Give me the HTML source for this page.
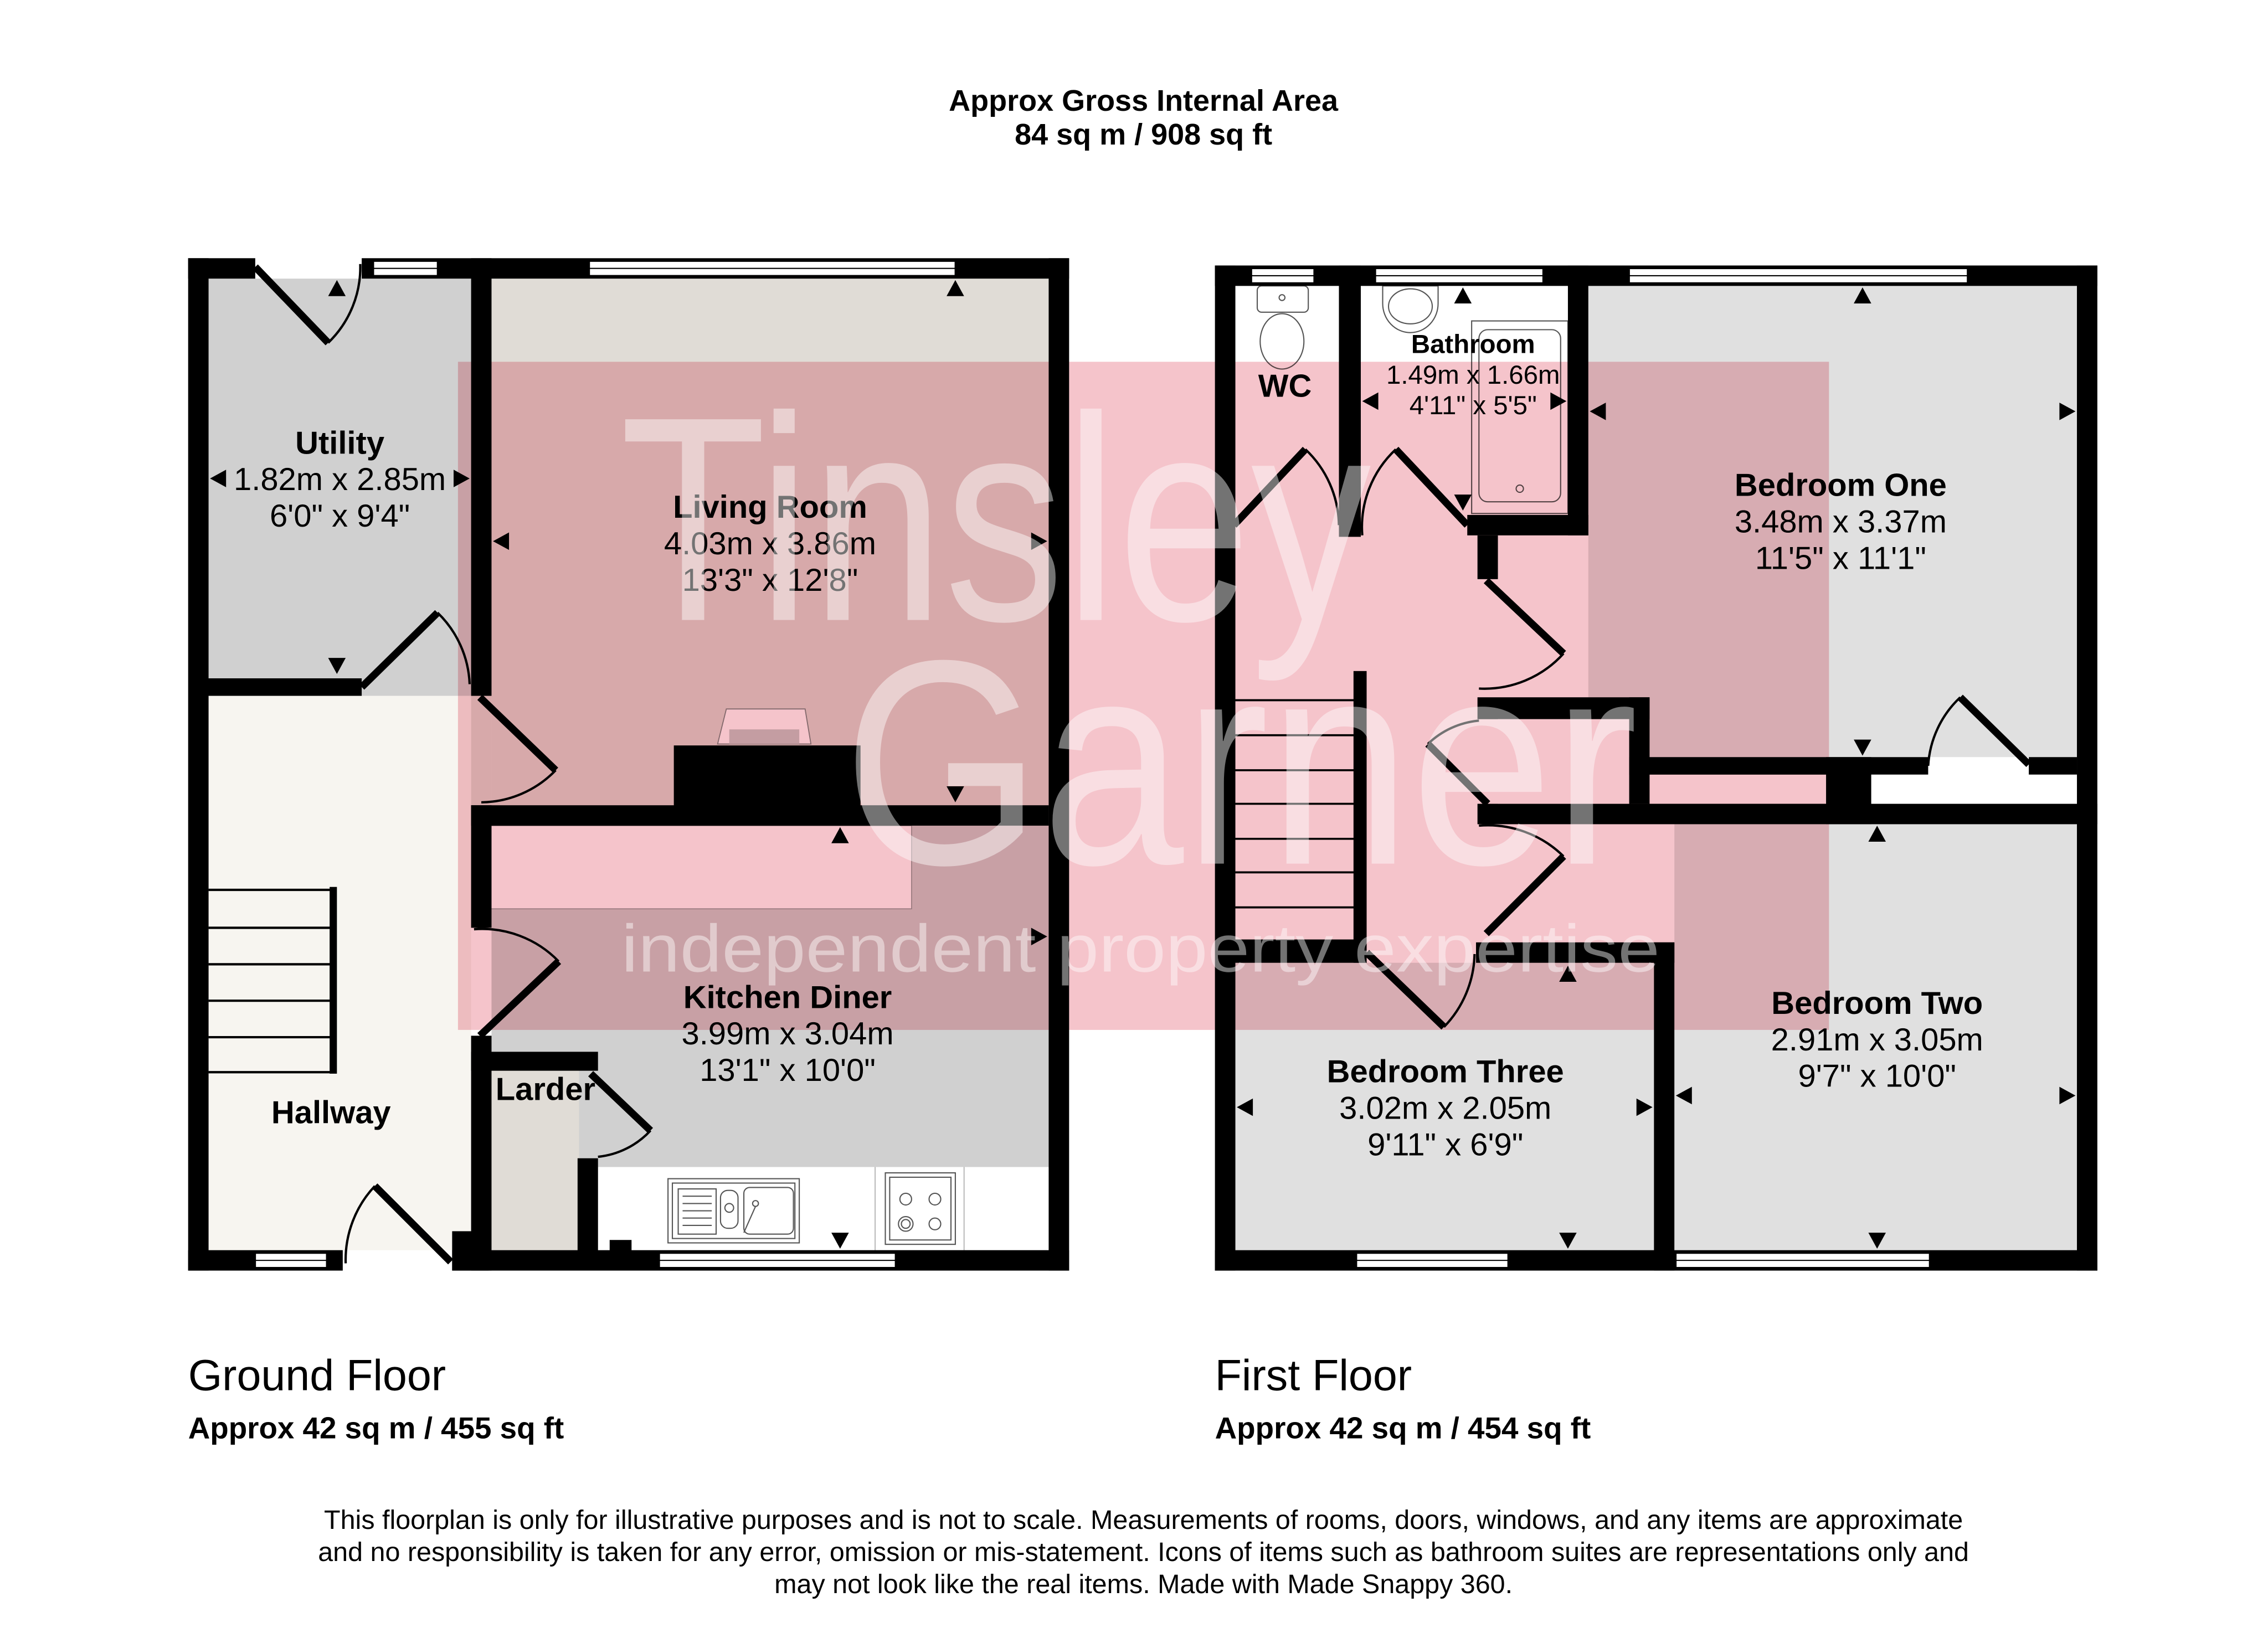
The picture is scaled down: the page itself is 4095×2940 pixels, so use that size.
<!DOCTYPE html>
<html><head><meta charset="utf-8"><style>
html,body{margin:0;padding:0;background:#fff;}
svg{display:block;}
text{font-family:"Liberation Sans",Arial,sans-serif;}
</style></head><body>
<svg width="4095" height="2940" viewBox="0 0 1555 1116" preserveAspectRatio="none" xmlns="http://www.w3.org/2000/svg">
<rect width="1555" height="1116" fill="#fff"/>
<g text-anchor="middle" font-weight="bold" font-size="20.5">
<text x="784" y="76">Approx Gross Internal Area</text>
<text x="784" y="99">84 sq m / 908 sq ft</text>
</g>

<!-- ===== GROUND FLOOR ===== -->
<rect x="143" y="191" width="180" height="274" fill="#d0d0d0"/>
<rect x="337" y="191" width="382" height="361" fill="#e0dcd6"/>
<rect x="143" y="477" width="180" height="380" fill="#f7f5f0"/>
<rect x="248" y="465" width="75" height="12" fill="#d0d0d0"/>
<rect x="323" y="477" width="14" height="75" fill="#e0dcd6"/>
<rect x="337" y="566" width="382" height="291" fill="#d0d0d0"/>
<rect x="336" y="566" width="289" height="57" fill="#fff" stroke="#999" stroke-width="0.6"/>
<rect x="410" y="800" width="309" height="57" fill="#fff"/>
<line x1="600" y1="800" x2="600" y2="857" stroke="#bbb" stroke-width="0.8"/>
<line x1="661" y1="800" x2="661" y2="857" stroke="#bbb" stroke-width="0.8"/>
<rect x="337" y="733" width="60" height="124" fill="#e0dcd6"/>
<!-- sink -->
<g fill="none" stroke="#555" stroke-width="0.8">
<rect x="458" y="808" width="90" height="44"/><rect x="461" y="811" width="84" height="38"/>
<rect x="465" y="815" width="26" height="31"/>
<line x1="468" y1="820" x2="488" y2="820"/><line x1="468" y1="825" x2="488" y2="825"/><line x1="468" y1="830" x2="488" y2="830"/><line x1="468" y1="835" x2="488" y2="835"/><line x1="468" y1="840" x2="488" y2="840"/>
<rect x="494" y="816" width="12" height="26" rx="5"/><rect x="510" y="814" width="34" height="32" rx="4"/>
<circle cx="500" cy="828" r="3"/><circle cx="518" cy="825" r="2"/><line x1="518" y1="827" x2="510" y2="845"/>
<rect x="607" y="804" width="48" height="49"/><rect x="610" y="807" width="42" height="43"/>
<circle cx="621" cy="822" r="4"/><circle cx="641" cy="822" r="4"/><circle cx="621" cy="839" r="5"/><circle cx="641" cy="839" r="4"/>
<circle cx="621" cy="839" r="3"/>
</g>
<g fill="#000">
<rect x="129" y="177" width="14" height="694"/>
<rect x="719" y="177" width="14" height="694"/>
<rect x="129" y="177" width="46" height="14"/>
<rect x="248" y="177" width="485" height="14"/>
<rect x="129" y="857" width="106" height="14"/>
<rect x="310" y="857" width="423" height="14"/>
<rect x="310" y="844" width="25" height="27"/>
<rect x="418" y="850" width="15" height="8"/>
<rect x="323" y="177" width="14" height="300"/>
<rect x="141" y="465" width="107" height="12"/>
<rect x="323" y="552" width="396" height="14"/>
<rect x="462" y="511" width="128" height="50"/>
<rect x="323" y="552" width="14" height="84"/>
<rect x="323" y="710" width="14" height="161"/>
<rect x="323" y="721" width="87" height="13"/>
<rect x="396" y="794" width="14" height="64"/>
<rect x="226" y="608" width="5" height="128"/>
</g>
<path d="M492 510 L498 486 L552 486 L556 510 Z" fill="#fff" stroke="#888" stroke-width="0.7"/>
<rect x="500" y="500" width="48" height="10" fill="#ccc"/>
<g stroke="#000" stroke-width="1.6">
<line x1="143" y1="610" x2="229" y2="610"/><line x1="143" y1="636" x2="229" y2="636"/><line x1="143" y1="661" x2="229" y2="661"/><line x1="143" y1="686" x2="229" y2="686"/><line x1="143" y1="711" x2="229" y2="711"/><line x1="143" y1="735" x2="229" y2="735"/>
</g>
<g fill="#fff" stroke="#000" stroke-width="1">
<rect x="256" y="179" width="44" height="10"/>
<rect x="404" y="179" width="251" height="10"/>
<rect x="175" y="859" width="49" height="10"/>
<rect x="452" y="859" width="162" height="10"/>
</g>
<g stroke="#000" stroke-width="0.8"><line x1="256" y1="184" x2="300" y2="184"/><line x1="404" y1="184" x2="655" y2="184"/><line x1="175" y1="864" x2="224" y2="864"/><line x1="452" y1="864" x2="614" y2="864"/></g>
<g stroke="#000" stroke-width="5" stroke-linecap="butt">
<line x1="175" y1="183" x2="225" y2="235"/>
<line x1="248" y1="471" x2="300" y2="420"/>
<line x1="329" y1="478" x2="381" y2="528"/>
<line x1="329" y1="710" x2="383" y2="659"/>
<line x1="405" y1="736" x2="446" y2="775"/>
<line x1="257" y1="813" x2="309" y2="865"/>
</g>
<g fill="none" stroke="#000" stroke-width="1.6">
<path d="M225 235 A72 72 0 0 0 247 181"/>
<path d="M300 420 A72 72 0 0 1 322 469"/>
<path d="M381 528 A72 72 0 0 1 330 550"/>
<path d="M383 659 A73 73 0 0 0 325 637"/>
<path d="M446 775 A57 57 0 0 1 410 793"/>
<path d="M257 813 A74 74 0 0 0 237 866"/>
</g>
<g fill="#000">
<path d="M231 192 l-6 11 h12z"/><path d="M231 462 l-6 -11 h12z"/><path d="M144 328 l11 -6 v12z"/><path d="M322 328 l-11 -6 v12z"/>
<path d="M655 192 l-6 11 h12z"/><path d="M338 371 l11 -6 v12z"/><path d="M718 371 l-11 -6 v12z"/><path d="M655 550 l-6 -11 h12z"/>
<path d="M576 567 l-6 11 h12z"/><path d="M718 642 l-11 -6 v12z"/><path d="M576 856 l-6 -11 h12z"/>
</g>
<g text-anchor="middle" font-size="22">
<text x="233" y="311" font-weight="bold">Utility</text>
<text x="233" y="336">1.82m x 2.85m</text>
<text x="233" y="361">6'0" x 9'4"</text>
<text x="528" y="355" font-weight="bold">Living Room</text>
<text x="528" y="380">4.03m x 3.86m</text>
<text x="528" y="405">13'3" x 12'8"</text>
<text x="540" y="691" font-weight="bold">Kitchen Diner</text>
<text x="540" y="716">3.99m x 3.04m</text>
<text x="540" y="741">13'1" x 10'0"</text>
<text x="374" y="754" font-weight="bold">Larder</text>
<text x="227" y="770" font-weight="bold">Hallway</text>
</g>

<!-- ===== FIRST FLOOR ===== -->
<rect x="847" y="196" width="577" height="661" fill="#fff"/>
<rect x="1089" y="196" width="335" height="323" fill="#e0e0e0"/>
<rect x="1131" y="493" width="152" height="26" fill="#e0e0e0"/>
<rect x="847" y="660" width="287" height="197" fill="#e0e0e0"/>
<rect x="1148" y="565" width="276" height="292" fill="#e0e0e0"/>
<g fill="#fff" stroke="#555" stroke-width="0.8">
<rect x="862" y="196" width="35" height="18" rx="3"/>
<ellipse cx="879" cy="234" rx="15" ry="19"/>
<circle cx="879" cy="204" r="2"/>
<path d="M948 196 h38 v12 a19 20 0 0 1 -38 0z"/>
<ellipse cx="967" cy="210" rx="15" ry="12"/>
<rect x="1009" y="220" width="66" height="132"/>
<rect x="1014" y="226" width="56" height="118" rx="6"/>
<circle cx="1042" cy="335" r="2.5"/>
</g>
<g fill="#000">
<rect x="833" y="182" width="14" height="689"/>
<rect x="1424" y="182" width="14" height="689"/>
<rect x="833" y="182" width="605" height="14"/>
<rect x="833" y="857" width="605" height="14"/>
<rect x="918" y="182" width="15" height="186"/>
<rect x="1075" y="182" width="14" height="185"/>
<rect x="1006" y="353" width="83" height="14"/>
<rect x="1013" y="367" width="14" height="30"/>
<rect x="1013" y="478" width="118" height="15"/>
<rect x="1117" y="478" width="14" height="73"/>
<rect x="1117" y="519" width="205" height="12"/>
<rect x="1252" y="519" width="31" height="46"/>
<rect x="1391" y="519" width="33" height="12"/>
<rect x="1013" y="551" width="425" height="14"/>
<rect x="928" y="460" width="9" height="200"/>
<rect x="844" y="644" width="93" height="16"/>
<rect x="1012" y="646" width="136" height="14"/>
<rect x="1134" y="646" width="14" height="225"/>
</g>
<rect x="1027" y="493" width="90" height="58" fill="#fff"/>
<rect x="1283" y="531" width="141" height="20" fill="#fff"/>
<g stroke="#000" stroke-width="1.4">
<line x1="847" y1="480" x2="929" y2="480"/><line x1="847" y1="504" x2="929" y2="504"/><line x1="847" y1="528" x2="929" y2="528"/><line x1="847" y1="551" x2="929" y2="551"/><line x1="847" y1="575" x2="929" y2="575"/><line x1="847" y1="598" x2="929" y2="598"/><line x1="847" y1="622" x2="929" y2="622"/>
</g>
<g fill="#fff" stroke="#000" stroke-width="1">
<rect x="858" y="184" width="43" height="10"/>
<rect x="943" y="184" width="115" height="10"/>
<rect x="1117" y="184" width="232" height="10"/>
<rect x="930" y="859" width="104" height="10"/>
<rect x="1149" y="859" width="174" height="10"/>
</g>
<g stroke="#000" stroke-width="0.8"><line x1="858" y1="189" x2="901" y2="189"/><line x1="943" y1="189" x2="1058" y2="189"/><line x1="1117" y1="189" x2="1349" y2="189"/><line x1="930" y1="864" x2="1034" y2="864"/><line x1="1149" y1="864" x2="1323" y2="864"/></g>
<g stroke="#000" stroke-width="5">
<line x1="846" y1="360" x2="895" y2="308"/>
<line x1="957" y1="308" x2="1006" y2="360"/>
<line x1="1019" y1="398" x2="1072" y2="448"/>
<line x1="979" y1="510" x2="1020" y2="551"/>
<line x1="1019" y1="640" x2="1072" y2="587"/>
<line x1="937" y1="653" x2="990" y2="704"/>
</g>
<g fill="none" stroke="#000" stroke-width="1.6">
<path d="M895 308 A73 73 0 0 1 918 360"/>
<path d="M957 308 A73 73 0 0 0 934 367"/>
<path d="M1072 448 A73 73 0 0 1 1014 472"/>
<path d="M979 510 A58 58 0 0 1 1014 494"/>
<path d="M1072 587 A74 74 0 0 0 1014 566"/>
<path d="M990 704 A74 74 0 0 0 1011 654"/>
<path d="M1322 525 A70 70 0 0 1 1344 478"/>
</g>
<line x1="1344" y1="478" x2="1391" y2="524" stroke="#000" stroke-width="5"/>
<g fill="#000">
<path d="M1003 197 l-6 11 h12z"/><path d="M1003 350 l-6 -11 h12z"/><path d="M934 275 l11 -6 v12z"/><path d="M1074 275 l-11 -6 v12z"/>
<path d="M1277 197 l-6 11 h12z"/><path d="M1090 282 l11 -6 v12z"/><path d="M1423 282 l-11 -6 v12z"/><path d="M1277 518 l-6 -11 h12z"/>
<path d="M1287 566 l-6 11 h12z"/><path d="M1149 751 l11 -6 v12z"/><path d="M1423 751 l-11 -6 v12z"/><path d="M1287 856 l-6 -11 h12z"/>
<path d="M1075 662 l-6 11 h12z"/><path d="M848 759 l11 -6 v12z"/><path d="M1133 759 l-11 -6 v12z"/><path d="M1075 856 l-6 -11 h12z"/>
</g>
<g text-anchor="middle" font-size="22">
<text x="881" y="272" font-weight="bold">WC</text>
<text x="1010" y="242" font-weight="bold" font-size="18">Bathroom</text>
<text x="1010" y="263" font-size="18">1.49m x 1.66m</text>
<text x="1010" y="284" font-size="18">4'11" x 5'5"</text>
<text x="1262" y="340" font-weight="bold">Bedroom One</text>
<text x="1262" y="365">3.48m x 3.37m</text>
<text x="1262" y="390">11'5" x 11'1"</text>
<text x="1287" y="695" font-weight="bold">Bedroom Two</text>
<text x="1287" y="720">2.91m x 3.05m</text>
<text x="1287" y="745">9'7" x 10'0"</text>
<text x="991" y="742" font-weight="bold">Bedroom Three</text>
<text x="991" y="767">3.02m x 2.05m</text>
<text x="991" y="792">9'11" x 6'9"</text>
</g>

<!-- watermark -->
<rect x="314" y="248" width="940" height="458" fill="#f5c4cb" style="mix-blend-mode:multiply"/>
<g fill="#fff" fill-opacity="0.45">
<text x="425" y="425" font-size="200" textLength="515" lengthAdjust="spacingAndGlyphs">Tinsley</text>
<text x="578" y="592" font-size="200" textLength="545" lengthAdjust="spacingAndGlyphs">Garner</text>
<text x="426" y="666" font-size="46" textLength="712" lengthAdjust="spacingAndGlyphs">independent property expertise</text>
</g>

<!-- footer -->
<text x="129" y="953" font-size="30">Ground Floor</text>
<text x="129" y="986" font-size="20.8" font-weight="bold">Approx 42 sq m / 455 sq ft</text>
<text x="833" y="953" font-size="30">First Floor</text>
<text x="833" y="986" font-size="20.8" font-weight="bold">Approx 42 sq m / 454 sq ft</text>
<g text-anchor="middle" font-size="18.4">
<text x="784" y="1048">This floorplan is only for illustrative purposes and is not to scale. Measurements of rooms, doors, windows, and any items are approximate</text>
<text x="784" y="1070">and no responsibility is taken for any error, omission or mis-statement. Icons of items such as bathroom suites are representations only and</text>
<text x="784" y="1092">may not look like the real items. Made with Made Snappy 360.</text>
</g>
</svg>
</body></html>
